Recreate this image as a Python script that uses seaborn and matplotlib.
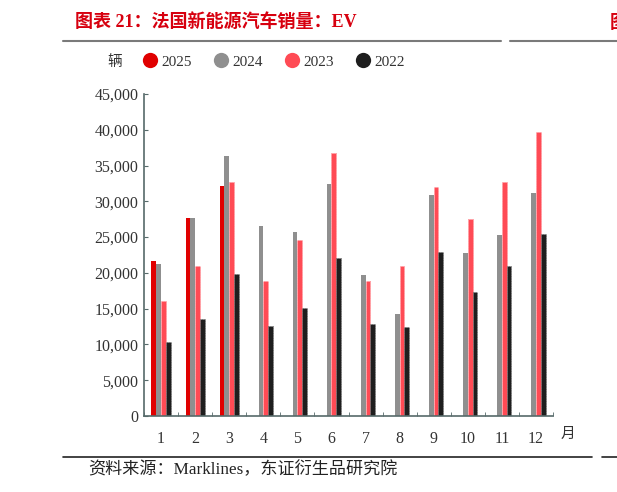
import matplotlib
matplotlib.use("Agg")
import matplotlib.pyplot as plt
import seaborn as sns
import pandas as pd
import numpy as np
from matplotlib.lines import Line2D
from matplotlib.ticker import FuncFormatter, FixedLocator

months = ["1", "2", "3", "4", "5", "6", "7", "8", "9", "10", "11", "12"]
years = ["2025", "2024", "2023", "2022"]
sales_2025 = [21700, 27700, 32100, np.nan, np.nan, np.nan, np.nan, np.nan, np.nan, np.nan, np.nan, np.nan]
sales_2024 = [21300, 27700, 36400, 26600, 25700, 32400, 19700, 14200, 30950, 22800, 25350, 31200]
sales_2023 = [16100, 21000, 32700, 18800, 24650, 36800, 18800, 20950, 32050, 27500, 32750, 39700]
sales_2022 = [10400, 13550, 19850, 12600, 15150, 22050, 12800, 12400, 22950, 17300, 20950, 25500]
colors = ["#E00000", "#8F8F8F", "#FF4B55", "#1E1E1E"]
edge_colors = [None, None, "#FF9DA3", "#777777"]

rows = []
for y, vals in zip(years, [sales_2025, sales_2024, sales_2023, sales_2022]):
    for m, v in zip(months, vals):
        rows.append({"month": m, "year": y, "sales": v})
df = pd.DataFrame(rows)

sns.set_style("white")
SERIF = ["Liberation Serif", "Noto Sans CJK SC", "DejaVu Sans"]
plt.rcParams["font.family"] = SERIF

fig = plt.figure(figsize=(6.17, 4.92), dpi=100)
ax = fig.add_axes([144/617, 1-416/492, 409/617, 322/492])

sns.barplot(data=df, x="month", y="sales", hue="year", order=months,
            hue_order=years, palette=colors, width=0.56, gap=0.0,
            saturation=1, ax=ax, legend=False, linewidth=0)

# dotted edge texture on 2023 / 2022 bars
for cont, ec in zip(ax.containers, edge_colors):
    if ec is None:
        continue
    for p in cont.patches:
        p.set_edgecolor(ec)
        p.set_linewidth(0.7)
        p.set_linestyle((0, (1, 1.5)))

axis_c = "#566a6a"
ax.set_xlim(-0.5, 11.5)
ax.set_ylim(0, 45000)
ax.set_yticks(np.arange(0, 45001, 5000))
ax.yaxis.set_major_formatter(FuncFormatter(lambda v, p: f"{int(v):,}"))
for s in ["top", "right"]:
    ax.spines[s].set_visible(False)
for s in ["left", "bottom"]:
    ax.spines[s].set_color(axis_c)
    ax.spines[s].set_linewidth(1.2)
ax.set_xlabel("")
ax.set_ylabel("")
ax.tick_params(axis="y", direction="in", length=3, color=axis_c, labelsize=11.5,
               labelcolor="#333333", pad=4, left=True)
ax.tick_params(axis="x", which="major", length=0, labelsize=11.5,
               labelcolor="#333333", pad=11)
ax.xaxis.set_minor_locator(FixedLocator(np.arange(-0.5, 11.6, 1)))
ax.tick_params(axis="x", which="minor", direction="in", length=3, color=axis_c,
               bottom=True)
ax.grid(False)

# title
fig.text(75/617, 1-22/492, "图表 21：法国新能源汽车销量：EV", color="#D7000F",
         fontsize=13, fontweight="bold", family=["Liberation Serif", "Noto Sans CJK SC"],
         va="center", ha="left")
fig.text(610/617, 1-22/492, "图", color="#D7000F", fontsize=13, fontweight="bold",
         family=["Noto Sans CJK SC"], va="center", ha="left")
fig.add_artist(Line2D([63/617, 501/617], [1-41/492, 1-41/492], color="#7a7a7a", lw=1.5))
fig.add_artist(Line2D([510/617, 1.0], [1-41/492, 1-41/492], color="#7a7a7a", lw=1.5))

# legend
fig.text(115/617, 1-62/492, "辆", fontsize=10.5, color="#333333", va="center", ha="center",
         family=["Noto Sans CJK SC"])
xs = [150, 221, 292, 363]
for x, lab, c in zip(xs, years, colors):
    fig.add_artist(Line2D([x/617], [1-60/492], marker="o", markersize=11,
                          color=c, markeredgewidth=0, linestyle="none"))
    fig.text((x+11)/617, 1-62/492, lab, fontsize=11, color="#333333",
             va="center", ha="left")

# x unit
fig.text(568/617, 1-434/492, "月", fontsize=10.5, color="#333333", va="center",
         ha="center", family=["Noto Sans CJK SC"])

# bottom source
fig.add_artist(Line2D([63/617, 592/617], [1-457/492, 1-457/492], color="#222222", lw=1.2))
fig.add_artist(Line2D([602/617, 1.0], [1-457/492, 1-457/492], color="#222222", lw=1.2))
fig.text(88/617, 1-470/492, "资料来源：Marklines，东证衍生品研究院", fontsize=12.3,
         color="#222222", va="center", ha="left")

fig.savefig("out.png", dpi=100)
